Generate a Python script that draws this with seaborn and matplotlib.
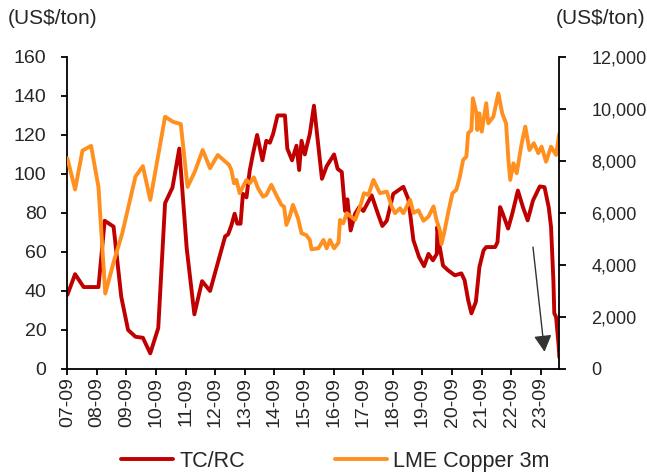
import matplotlib
matplotlib.use("Agg")
import matplotlib.pyplot as plt
import pandas as pd
import seaborn as sns
from matplotlib.ticker import FuncFormatter, MultipleLocator

# Copper concentrate treatment/refining charges (left axis, US$/ton)
tcrc_year = [
    2007.67, 2007.93, 2008.22, 2008.72, 2008.93, 2009.23, 2009.49, 2009.72,
    2009.97, 2010.22, 2010.47, 2010.74, 2010.97, 2011.22, 2011.45, 2011.70,
    2011.96, 2012.22, 2012.49, 2013.00, 2013.10, 2013.21, 2013.32, 2013.41,
    2013.52, 2013.60, 2013.72, 2013.83, 2013.94, 2014.08, 2014.26, 2014.39,
    2014.51, 2014.62, 2014.77, 2015.02, 2015.10, 2015.26, 2015.41, 2015.50,
    2015.58, 2015.69, 2015.86, 2016.00, 2016.27, 2016.43, 2016.68, 2016.80,
    2016.94, 2017.05, 2017.13, 2017.24, 2017.39, 2017.53, 2017.67, 2017.95,
    2018.16, 2018.31, 2018.46, 2018.68, 2019.02, 2019.19, 2019.36, 2019.55,
    2019.72, 2019.87, 2020.02, 2020.15, 2020.17, 2020.25, 2020.36, 2020.53,
    2020.76, 2020.98, 2021.09, 2021.21, 2021.32, 2021.47, 2021.59, 2021.73,
    2021.82, 2022.12, 2022.20, 2022.29, 2022.37, 2022.56, 2022.70, 2022.89,
    2023.06, 2023.22, 2023.40, 2023.63, 2023.79, 2023.93, 2024.01, 2024.09,
    2024.12, 2024.18, 2024.27, 2024.29,
]
tcrc_value = [
    38, 48.6, 42, 42, 76, 73, 37, 20,
    16.5, 16, 8, 21, 85, 93, 113, 62,
    28, 45, 40, 68, 69, 73.6, 79.6, 74.5,
    74.5, 89.8, 88, 101.7, 110.3, 120, 107, 117,
    116, 120.5, 130, 130, 113, 107, 114.5, 102,
    117, 110, 120.5, 135, 97.5, 104, 110, 102.6,
    101, 81, 87, 71, 79.6, 83, 81, 89,
    79.6, 73.3, 76, 89.8, 93.4, 87, 66, 57.4,
    52.7, 59, 55.7, 59, 72.8, 62.5, 53, 50.6,
    48, 49, 45.5, 35.3, 28.5, 34.4, 52.3, 60.8,
    62.5, 62.5, 65, 83, 80, 72, 79.6, 91.5,
    83, 76.2, 86.4, 93.6, 93.2, 83, 72.8, 45,
    28.5, 26.7, 11.4, 6,
]

# LME 3-month copper price (right axis, US$/ton)
copper_year = [
    2007.67, 2007.93, 2008.18, 2008.47, 2008.72, 2008.95, 2009.23, 2009.52,
    2009.97, 2010.22, 2010.47, 2010.97, 2011.25, 2011.50, 2011.73, 2011.98,
    2012.24, 2012.49, 2012.75, 2013.13, 2013.21, 2013.30, 2013.38, 2013.49,
    2013.60, 2013.72, 2013.83, 2013.97, 2014.11, 2014.28, 2014.39, 2014.56,
    2014.67, 2014.78, 2014.90, 2014.99, 2015.07, 2015.18, 2015.29, 2015.46,
    2015.58, 2015.74, 2015.86, 2015.92, 2016.15, 2016.32, 2016.43, 2016.54,
    2016.68, 2016.83, 2016.88, 2016.99, 2017.11, 2017.39, 2017.56, 2017.69,
    2017.84, 2018.01, 2018.23, 2018.46, 2018.63, 2018.74, 2018.91, 2019.02,
    2019.13, 2019.25, 2019.36, 2019.53, 2019.70, 2019.87, 2020.04, 2020.14,
    2020.25, 2020.31, 2020.42, 2020.53, 2020.68, 2020.81, 2020.93, 2021.04,
    2021.15, 2021.21, 2021.32, 2021.37, 2021.49, 2021.52, 2021.59, 2021.67,
    2021.82, 2021.89, 2022.06, 2022.23, 2022.36, 2022.49, 2022.57, 2022.63,
    2022.74, 2022.85, 2023.02, 2023.14, 2023.28, 2023.43, 2023.58, 2023.69,
    2023.84, 2024.01, 2024.18, 2024.29,
]
copper_value = [
    8100, 6900, 8400, 8580, 7000, 2900, 4100, 5200,
    7400, 7800, 6500, 9700, 9500, 9420, 7000, 7600,
    8420, 7720, 8230, 7850, 7650, 7140, 7270, 6760,
    7010, 7270, 7140, 7370, 6950, 6630, 6690, 7080,
    6820, 6570, 6310, 6240, 5540, 5860, 6310, 5800,
    5220, 5150, 4960, 4600, 4640, 4960, 4640, 4960,
    4640, 4860, 5730, 5600, 5990, 5730, 6240, 6760,
    6690, 7270, 6760, 6820, 6240, 5990, 6180, 5990,
    6240, 6500, 6000, 6100, 5700, 5860, 6250, 5730,
    5350, 4800, 5350, 5990, 6760, 6890, 7400, 8040,
    8170, 9070, 9190, 10410, 9830, 9190, 9830, 9130,
    10220, 9450, 9700, 10600, 9830, 9450, 8040, 7270,
    7910, 7530, 8680, 9320, 8420, 8680, 8300, 8550,
    7970, 8550, 8230, 9050,
]

tick_labels = ["07-09", "08-09", "09-09", "10-09", "11-09", "12-09", "13-09",
               "14-09", "15-09", "16-09", "17-09", "18-09", "19-09", "20-09",
               "21-09", "22-09", "23-09"]
tick_years = [2007 + i + 8 / 12 for i in range(len(tick_labels))]

RED = "#C00000"
ORANGE = "#FF8F1F"
FS = 14

sns.set_theme(style="white")
plt.rcParams["font.family"] = ["Liberation Sans", "DejaVu Sans"]

tcrc = pd.DataFrame({"year": tcrc_year, "value": tcrc_value})
copper = pd.DataFrame({"year": copper_year, "value": copper_value})

fig = plt.figure(figsize=(6.47, 4.73), dpi=100)
ax = fig.add_axes([0.104, 0.22, 0.7605, 0.6596])
ax2 = ax.twinx()

sns.lineplot(data=tcrc, x="year", y="value", ax=ax, color=RED, lw=2.8,
             estimator=None, label="TC/RC", legend=False)
sns.lineplot(data=copper, x="year", y="value", ax=ax2, color=ORANGE, lw=2.8,
             estimator=None, label="LME Copper 3m", legend=False)

ax.set_xlim(tick_years[0], tcrc_year[-1])
ax.set_ylim(0, 160)
ax.yaxis.set_major_locator(MultipleLocator(20))
ax2.set_ylim(0, 12000)
ax2.yaxis.set_major_locator(MultipleLocator(2000))
ax2.yaxis.set_major_formatter(FuncFormatter(lambda v, _: f"{v:,.0f}"))

ax.set_xticks(tick_years)
ax.set_xticklabels(tick_labels, rotation=90)
ax.set_xlabel("")
ax.set_ylabel("")
ax2.set_ylabel("")

for a in (ax, ax2):
    a.spines["top"].set_visible(False)
    for s in a.spines.values():
        s.set_color("black")
        s.set_linewidth(1.3)
ax.spines["right"].set_visible(False)
ax2.spines["left"].set_visible(False)
ax2.spines["bottom"].set_visible(False)

ax.tick_params(axis="x", bottom=True, direction="out", length=4, width=1.3,
               color="black", labelsize=FS, pad=2)
ax.tick_params(axis="y", left=True, direction="out", length=4, width=1.3,
               color="black", labelsize=FS, pad=11)
ax2.tick_params(axis="y", right=True, direction="out", length=5, width=1.3,
                color="black", labelsize=13, pad=18)
ax.grid(False)
ax2.grid(False)

# Downward trend arrow next to the latest TC/RC collapse
ax2.annotate("", xy=(2023.79, 8.8), xycoords=ax.transData,
             xytext=(2023.40, 62.5), textcoords=ax.transData,
             arrowprops=dict(arrowstyle="-|>,head_length=0.5,head_width=0.27",
                             mutation_scale=20, color="#333333", lw=1.0,
                             shrinkA=0, shrinkB=0))

fig.text(8 / 647, 1 - 19 / 473, r"(US\$/ton)", ha="left", va="center", fontsize=15)
fig.text(645 / 647, 1 - 19 / 473, r"(US\$/ton)", ha="right", va="center", fontsize=15)

handles = ax.get_lines()[:1] + ax2.get_lines()[:1]
fig.legend(handles, ["TC/RC", "LME Copper 3m"], loc="center",
           bbox_to_anchor=(0.5186, 0.025), ncol=2, frameon=False,
           handlelength=2.4, handletextpad=0.3, columnspacing=4.2, fontsize=15.5)

fig.savefig("out.png", dpi=100)
